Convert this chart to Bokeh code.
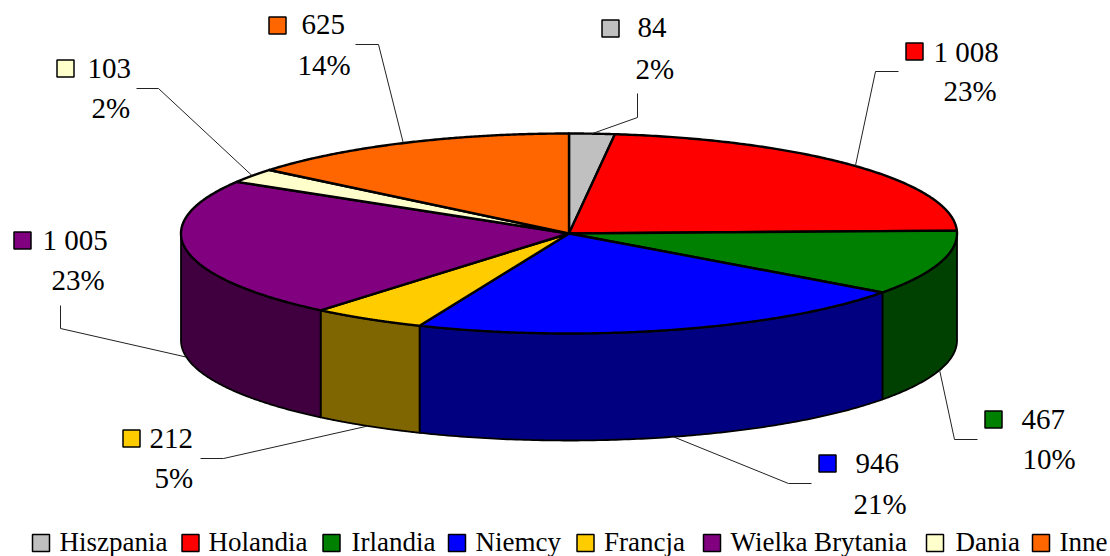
import numpy as np
from bokeh.plotting import figure
from bokeh.models import Range1d
from bokeh.core.properties import value
from bokeh.embed import file_html
from bokeh.resources import INLINE

# ---- data ----
categories = ["Hiszpania", "Holandia", "Irlandia", "Niemcy", "Francja", "Wielka Brytania", "Dania", "Inne"]
values = [84, 1008, 467, 946, 212, 1005, 103, 625]

# ---- style ----
top_colors = ["#C0C0C0", "#FF0000", "#008000", "#0000FF", "#FFCC00", "#800080", "#FFFFCC", "#FF6600"]
side_colors = ["#606060", "#800000", "#004000", "#000080", "#806600", "#400040", "#808066", "#803300"]
FONT = value("Liberation Serif")

# ---- layout (page pixels) ----
CX, CY, RX, RY, DEPTH = 568.5, 233.0, 388.0, 100.0, 107.0
swatch_xy = [(610, 28), (914, 51), (993, 419), (827, 463), (131, 438), (22, 240), (65, 68), (277, 25)]
value_xy = [(637, 27), (933, 51), (1021, 419), (855, 463), (149, 438), (42, 239), (87, 68), (301, 24)]
pct_xy = [(635, 68), (943, 90), (1022, 458), (853, 503), (154, 477), (51, 279), (91, 107), (297, 64)]
# leader: elbow then end of the line
elbow_xy = [(637, 117), (875, 71), (954, 439), (788, 483), (223, 458), (60, 328), (158, 88), (378, 44)]
tail_xy = [(637, 93), (898, 71), (977, 439), (811, 483), (200, 458), (60, 305), (136, 88), (355, 44)]
legend_swatch_x = [40.5, 190, 331, 456.5, 585, 711.5, 934.5, 1040.5]
legend_text_x = [59, 208, 351, 475, 603.5, 730, 955, 1059]
LEGEND_Y = 542.5
LEGEND_TEXT_Y = 541

# ---- geometry from the values ----
vals = np.array(values, dtype=float)
total = vals.sum()
edges = np.concatenate([[0.0], np.cumsum(vals)]) / total * 2 * np.pi


def ell(theta, dy=0.0):
    return CX + RX * np.sin(theta), CY - RY * np.cos(theta) + dy


p = figure(width=1110, height=556, output_backend="svg", toolbar_location=None,
           x_range=Range1d(0, 1110), y_range=Range1d(556, 0),
           min_border=0, outline_line_color=None, background_fill_color="white")
p.axis.visible = False
p.grid.visible = False

# front wall
wx, wy, wc = [], [], []
for i in range(len(vals)):
    a = max(edges[i], np.pi / 2)
    b = min(edges[i + 1], 3 * np.pi / 2)
    if b <= a:
        continue
    t = np.linspace(a, b, 120)
    x1, y1 = ell(t)
    x2, y2 = ell(t[::-1], DEPTH)
    wx.append(np.concatenate([x1, x2]).tolist())
    wy.append(np.concatenate([y1, y2]).tolist())
    wc.append(side_colors[i])
p.patches(wx, wy, fill_color=wc, line_color="black", line_width=1.8, line_join="round")

# top face
tx, ty = [], []
for i in range(len(vals)):
    t = np.linspace(edges[i], edges[i + 1], 160)
    x, y = ell(t)
    tx.append([CX] + x.tolist())
    ty.append([CY] + y.tolist())
p.patches(tx, ty, fill_color=top_colors, line_color="black", line_width=2.4, line_join="round")

# leaders start at the rim at each slice's middle angle
mid = (edges[:-1] + edges[1:]) / 2
lx, ly = [], []
for i, m in enumerate(mid):
    visible_front = np.pi / 2 < m < 3 * np.pi / 2
    x, y = ell(m, DEPTH if visible_front else 0.0)
    lx.append([float(x), elbow_xy[i][0], tail_xy[i][0]])
    ly.append([float(y), elbow_xy[i][1], tail_xy[i][1]])
p.multi_line(lx, ly, line_color="#222222", line_width=1)

# data labels
val_txt = [f"{v:,}".replace(",", " ") for v in values]
pct_txt = [f"{round(v / total * 100)}%" for v in values]
p.scatter([s[0] for s in swatch_xy], [s[1] for s in swatch_xy], marker="square", size=17,
          fill_color=top_colors, line_color="black", line_width=1.5)
p.text([s[0] for s in value_xy], [s[1] for s in value_xy], text=val_txt, text_font=FONT,
       text_font_size="29px", text_color="black", text_baseline="middle", text_align="left")
p.text([s[0] for s in pct_xy], [s[1] for s in pct_xy], text=pct_txt, text_font=FONT,
       text_font_size="29px", text_color="black", text_baseline="middle", text_align="left")

# legend
p.scatter(legend_swatch_x, [LEGEND_Y] * len(categories), marker="square", size=17,
          fill_color=top_colors, line_color="black", line_width=1.5)
p.text(legend_text_x, [LEGEND_TEXT_Y] * len(categories), text=categories, text_font=FONT,
       text_font_size="27px", text_color="black", text_baseline="middle", text_align="left")

open("out.html", "w").write(file_html(p, INLINE))
